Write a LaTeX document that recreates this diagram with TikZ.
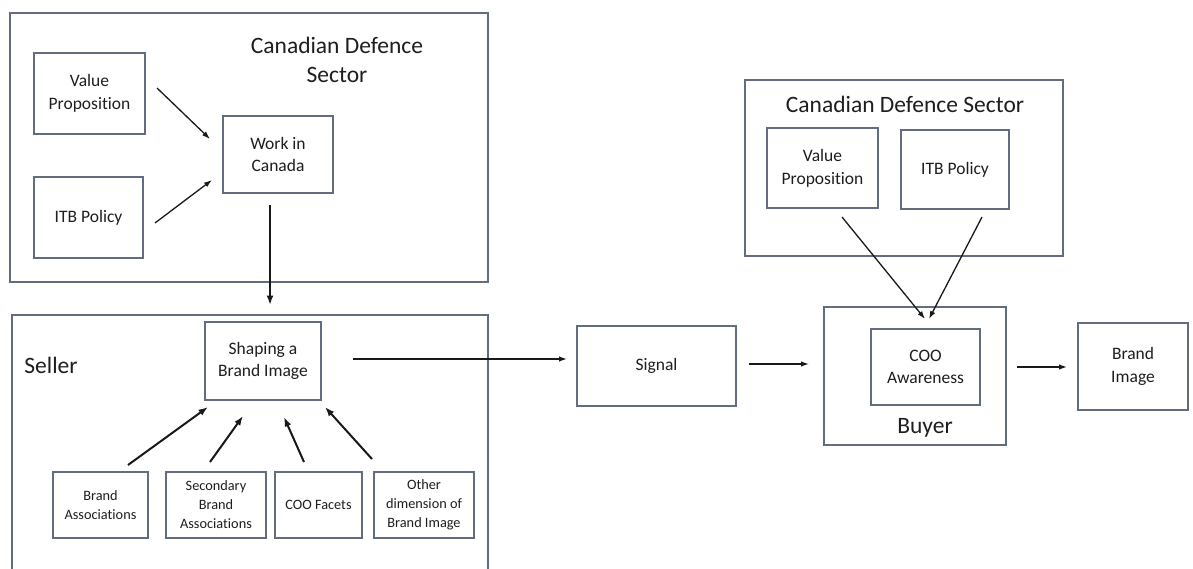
\documentclass[tikz,border=0pt]{standalone}
\usepackage{fontspec}
\setmainfont{Carlito}[Ligatures=NoCommon]
\usetikzlibrary{arrows.meta}
\definecolor{frame}{RGB}{98,110,128}
\definecolor{ink}{RGB}{30,30,30}
\tikzset{
  box/.style={draw=frame, line width=1.4pt, fill=white, inner sep=0pt, align=center, text=ink},
  midtext/.style={font=\fontsize{17.5}{22.7}\selectfont},
  smalltext/.style={font=\fontsize{14.3}{19}\selectfont},
  bigtext/.style={font=\fontsize{23.5}{28.3}\selectfont, text=ink, align=center, inner sep=0pt},
  arr/.style={-{Latex[length=8pt,width=5.5pt]}, line width=1.3pt, draw=black!90},
  thickarr/.style={-{Latex[length=9.5pt,width=7pt]}, line width=2pt, draw=black!90},
}
\begin{document}
\begin{tikzpicture}[x=1pt, y=-1pt]
\useasboundingbox (0,0) rectangle (1193,569);
\begin{scope}
\clip (0,0) rectangle (1193,569);

% ---------- left: Canadian Defence Sector ----------
\node[box, minimum width=478, minimum height=269] (cds1) at (249,147.5) {};
\node[bigtext] (cds1t) at (337,60) {Canadian Defence\\Sector};
\node[box, midtext, minimum width=111, minimum height=81] (vp1) at (89.5,93.5) {Value\\Proposition};
\node[box, midtext, minimum width=109, minimum height=81] (itb1) at (88.5,217.5) {ITB Policy};
\node[box, midtext, minimum width=110, minimum height=77] (wic) at (278,154.5) {Work in\\Canada};

% ---------- left: Seller ----------
\node[box, minimum width=476, minimum height=262] (seller) at (250,446) {};
\node[bigtext] (sellert) at (51,365) {Seller};
\node[box, midtext, minimum width=116, minimum height=78] (shape) at (263,361) {Shaping a\\Brand Image};
\node[box, smalltext, minimum width=95, minimum height=66] (ba) at (100.5,505) {Brand\\Associations};
\node[box, smalltext, minimum width=100, minimum height=66] (sba) at (216,505) {Secondary\\Brand\\Associations};
\node[box, smalltext, minimum width=87, minimum height=66] (coof) at (318.5,505) {COO Facets};
\node[box, smalltext, minimum width=100, minimum height=66] (oth) at (424,505) {Other\\dimension of\\Brand Image};

% ---------- middle ----------
\node[box, midtext, minimum width=159, minimum height=80] (sig) at (656.5,366) {Signal};

% ---------- right: Canadian Defence Sector ----------
\node[box, minimum width=318, minimum height=176] (cds2) at (904,168) {};
\node[bigtext] (cds2t) at (905,104) {Canadian Defence Sector};
\node[box, midtext, minimum width=111, minimum height=80] (vp2) at (822.5,168) {Value\\Proposition};
\node[box, midtext, minimum width=108, minimum height=79] (itb2) at (955,169.5) {ITB Policy};

% ---------- right: Buyer ----------
\node[box, minimum width=182, minimum height=138] (buyer) at (915,376) {};
\node[box, midtext, minimum width=109, minimum height=76] (coo) at (925.5,367) {COO\\Awareness};
\node[bigtext] (buyert) at (925,428) {Buyer};
\node[box, midtext, minimum width=110, minimum height=87] (bi) at (1133,366.5) {Brand\\Image};

% ---------- connector end points ----------
\coordinate (a1s) at (157,88);   \coordinate (a1e) at (210,139);
\coordinate (a2s) at (155,223);  \coordinate (a2e) at (212,180);
\coordinate (a3s) at (270,205);  \coordinate (a3e) at (270,305);
\coordinate (a4s) at (128,465);  \coordinate (a4e) at (208,407);
\coordinate (a5s) at (210,462);  \coordinate (a5e) at (243,416);
\coordinate (a6s) at (304,462);  \coordinate (a6e) at (284,417);
\coordinate (a7s) at (372,459);  \coordinate (a7e) at (325,407);
\coordinate (a8s) at (353,359);  \coordinate (a8e) at (567,359);
\coordinate (a9s) at (749,364);  \coordinate (a9e) at (809,364);
\coordinate (a10s) at (1017,367); \coordinate (a10e) at (1067,367);
\coordinate (a11s) at (842,217); \coordinate (a11e) at (925,319);
\coordinate (a12s) at (982,217); \coordinate (a12e) at (929,319);

% ---------- connectors ----------
\draw[arr] (a1s) -- (a1e);
\draw[arr] (a2s) -- (a2e);
\draw[thickarr] (a3s) -- (a3e);
\draw[thickarr] (a4s) -- (a4e);
\draw[thickarr] (a5s) -- (a5e);
\draw[thickarr] (a6s) -- (a6e);
\draw[thickarr] (a7s) -- (a7e);
\draw[arr] (a8s) -- (a8e);
\draw[arr] (a9s) -- (a9e);
\draw[arr] (a10s) -- (a10e);
\draw[arr] (a11s) -- (a11e);
\draw[arr] (a12s) -- (a12e);
\end{scope}
\end{tikzpicture}
\end{document}
